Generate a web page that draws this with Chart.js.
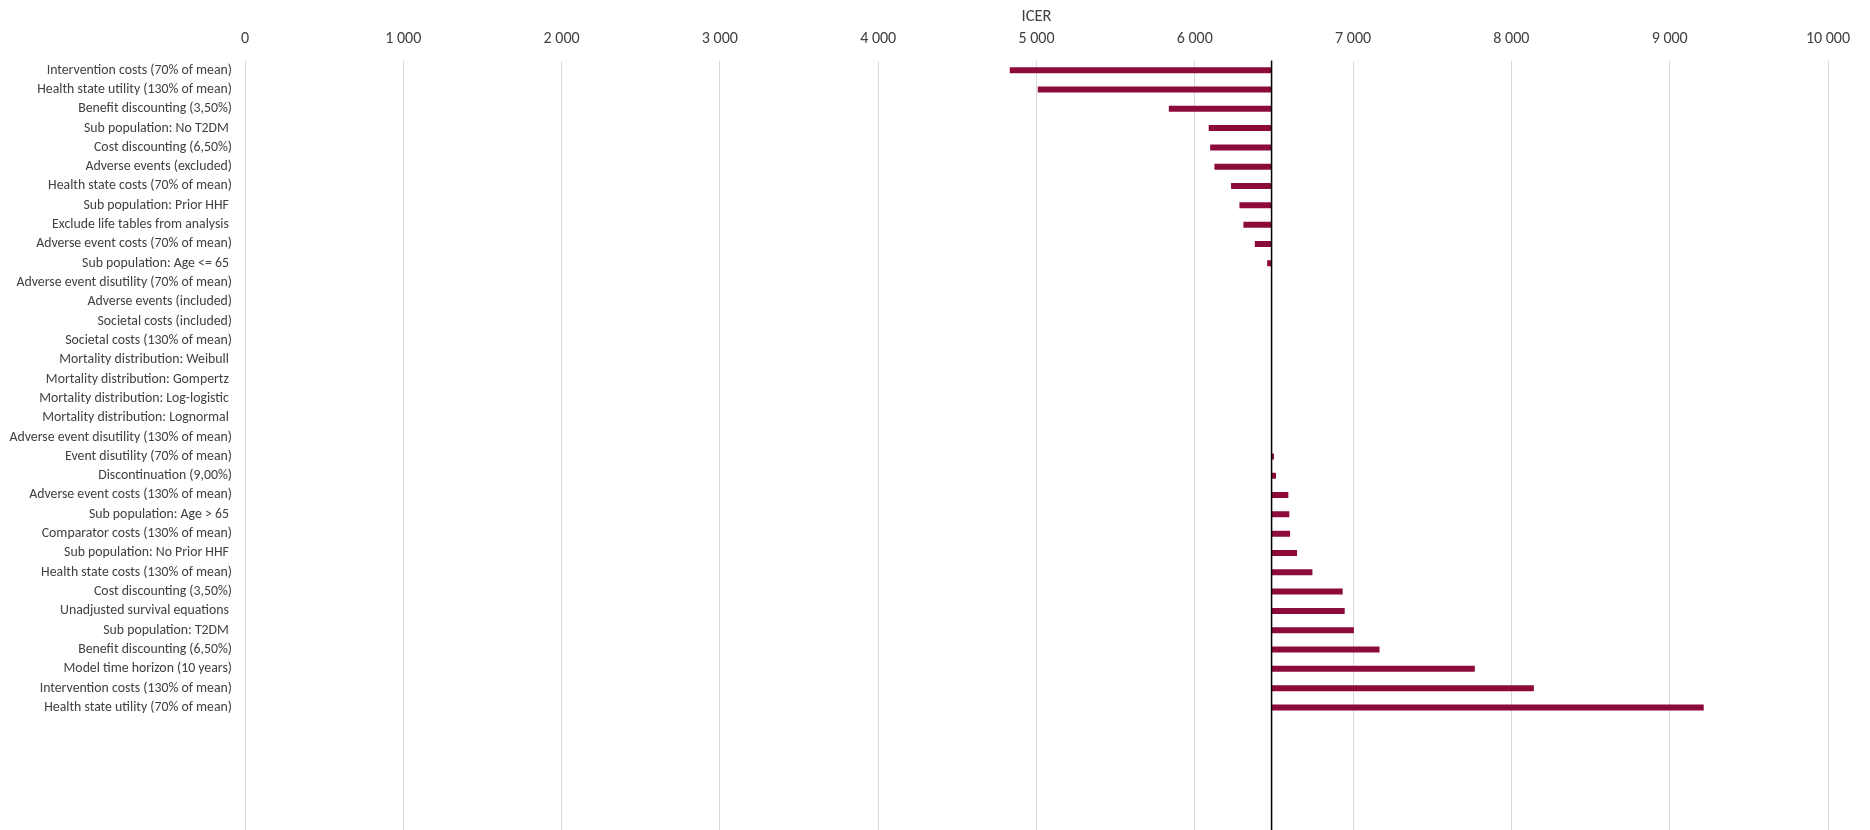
<!DOCTYPE html>
<html>
<head>
<meta charset="utf-8">
<title>ICER tornado</title>
<script src="https://cdn.jsdelivr.net/npm/chart.js@4.4.1/dist/chart.umd.min.js"></script>
<style>
  html, body { margin: 0; padding: 0; background: #fff; overflow: hidden; }
  #wrap { width: 1870px; height: 830px; overflow: hidden; }
  canvas { display: block; }
</style>
</head>
<body>
<div id="wrap"><canvas id="tornado" width="1870" height="836" style="width:1870px;height:836px"></canvas></div>
<script>
// dados
const parameters = [
  'Intervention costs (70% of mean)',
  'Health state utility (130% of mean)',
  'Benefit discounting (3,50%)',
  'Sub population: No T2DM ',
  'Cost discounting (6,50%)',
  'Adverse events (excluded)',
  'Health state costs (70% of mean)',
  'Sub population: Prior HHF ',
  'Exclude life tables from analysis ',
  'Adverse event costs (70% of mean)',
  'Sub population: Age <= 65 ',
  'Adverse event disutility (70% of mean)',
  'Adverse events (included)',
  'Societal costs (included)',
  'Societal costs (130% of mean)',
  'Mortality distribution: Weibull ',
  'Mortality distribution: Gompertz ',
  'Mortality distribution: Log-logistic ',
  'Mortality distribution: Lognormal ',
  'Adverse event disutility (130% of mean)',
  'Event disutility (70% of mean)',
  'Discontinuation (9,00%)',
  'Adverse event costs (130% of mean)',
  'Sub population: Age > 65 ',
  'Comparator costs (130% of mean)',
  'Sub population: No Prior HHF ',
  'Health state costs (130% of mean)',
  'Cost discounting (3,50%)',
  'Unadjusted survival equations ',
  'Sub population: T2DM ',
  'Benefit discounting (6,50%)',
  'Model time horizon (10 years)',
  'Intervention costs (130% of mean)',
  'Health state utility (70% of mean)'
];

const baseIcer = 6485;

const icer = [
  4831, 5008, 5836, 6088, 6097, 6124, 6229, 6282, 6307, 6379,
  6457, 6485, 6485, 6485, 6485, 6485, 6485, 6485, 6485, 6485,
  6500, 6513, 6591, 6597, 6602, 6646, 6743, 6934, 6947, 7005,
  7167, 7769, 8142, 9215
];

const xTickLabels = ['0', '1 000', '2 000', '3 000', '4 000', '5 000',
                     '6 000', '7 000', '8 000', '9 000', '10 000'];

// linhas vazias no fim do eixo (como no Excel)
const blankRows = ['', '', '', '', '', ''];

const labels = parameters.concat(blankRows);
const ranges = icer.map(v => [baseIcer, v]);

const textColor = '#404040';
Chart.defaults.font.family = "Carlito, Lato, 'Open Sans', sans-serif";

// linha vertical do caso base
const baseLine = {
  id: 'baseLine',
  afterDatasetsDraw(chart) {
    const { ctx, chartArea, scales } = chart;
    const x = scales.x.getPixelForValue(baseIcer);
    ctx.save();
    ctx.strokeStyle = '#000';
    ctx.lineWidth = 1.5;
    ctx.beginPath();
    ctx.moveTo(x, chartArea.top);
    ctx.lineTo(x, chartArea.bottom);
    ctx.stroke();
    ctx.restore();
  }
};

new Chart(document.getElementById('tornado'), {
  type: 'bar',
  data: {
    labels,
    datasets: [{
      data: ranges,
      backgroundColor: '#8c0b3b',
      borderWidth: 0,
      barPercentage: 0.31,
      categoryPercentage: 1
    }]
  },
  options: {
    indexAxis: 'y',
    responsive: false,
    animation: false,
    devicePixelRatio: 1,
    layout: { padding: { top: 0, right: 42, bottom: 3, left: 0 } },
    plugins: { legend: { display: false }, tooltip: { enabled: false } },
    scales: {
      x: {
        position: 'top',
        min: 0,
        max: 10000,
        ticks: {
          stepSize: 1000,
          padding: 12,
          color: textColor,
          font: { size: 16 },
          callback: (v, i) => xTickLabels[i]
        },
        grid: { color: '#d9d9d9', lineWidth: 1, drawTicks: false },
        border: { display: false },
        title: {
          display: true,
          text: 'ICER',
          color: textColor,
          font: { size: 16.5 },
          padding: { top: 7, bottom: 0 }
        },
        afterFit: s => { s.height = 60.5; }
      },
      y: {
        ticks: { padding: 13, color: textColor, font: { size: 13.8 }, autoSkip: false },
        grid: { display: false, drawTicks: false },
        border: { display: false },
        afterFit: s => {
          s.width = 245;
          s.paddingTop = 0;
          s.paddingBottom = 0;
        }
      }
    }
  },
  plugins: [baseLine]
});
</script>
</body>
</html>
